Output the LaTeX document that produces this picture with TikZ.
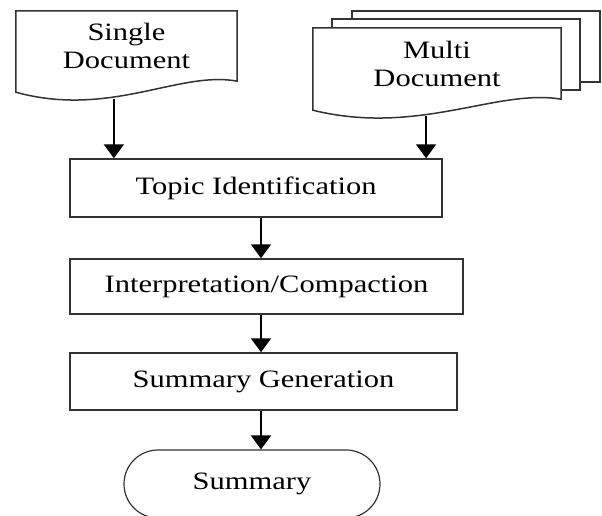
\documentclass[tikz,border=0pt]{standalone}
\usepackage{fontspec}
\setmainfont{Liberation Serif}[FakeStretch=1.22]
\usetikzlibrary{arrows.meta,calc}
\pgfdeclarelayer{background}
\pgfsetlayers{background,main}

\newcommand{\docpage}[1]{%
  \draw[outline, fill=white] (#1.north west) -- (#1.north east) -- (#1.south east)
    .. controls ($(#1.south west)!0.742!(#1.south east)+(0,-11)$)
    and ($(#1.south west)!0.425!(#1.south east)+(0,37)$)
    .. ($(#1.south west)+(0,11)$) -- cycle;}

\begin{document}
\begin{tikzpicture}[x=1pt,y=-1pt]
        \tikzstyle{every node}=[font=\fontsize{25}{28}\selectfont, align=center, inner sep=0pt]
        \tikzstyle{doc}=[minimum height=70pt]
        \tikzstyle{process}=[draw=black!80, line width=1.5pt]
        \tikzstyle{term}=[draw=black!80, line width=1.2pt, rounded corners=34pt, minimum width=256pt, minimum height=68pt]
        \tikzstyle{outline}=[draw=black!80, line width=1.5pt]
        \tikzstyle{flow}=[-{Triangle[width=20pt,length=14pt]}, line width=2pt]
        \useasboundingbox (0,0) rectangle (602,515);
        \node[doc, minimum width=221pt] (single) at (126.5,46) {Single\\Document};
        \node[doc, minimum width=248pt, minimum height=71pt] (multi) at (437,63.5) {Multi\\Document};
        \node[process, minimum width=372pt, minimum height=58pt] (topic) at (256,188) {Topic Identification};
        \node[process, minimum width=393pt, minimum height=55pt] (interp) at (266.5,286.5) {Interpretation/Compaction};
        \node[process, minimum width=387pt, minimum height=57pt] (sumgen) at (263.5,381.5) {\raisebox{4pt}{Summary Generation}};
        \node[term] (summary) at (252,484) {\raisebox{3pt}{Summary}};
        \begin{pgfonlayer}{background}
            \draw[outline, fill=white] ($(multi.north west)+(39,-17)$) rectangle ($(multi.south east)+(39,-17)$);
            \draw[outline, fill=white] ($(multi.north west)+(19,-9)$) rectangle ($(multi.south east)+(19,-9)$);
            \docpage{multi}
            \docpage{single}
        \end{pgfonlayer}
        \coordinate (singlelow) at ($(single.south west)!0.443!(single.south east)+(0,18)$);
        \coordinate (multilow) at ($(multi.south west)!0.456!(multi.south east)+(0,17)$);
        \coordinate (spine) at (261,0);
        \draw[flow] (singlelow) -- (singlelow |- topic.north);
        \draw[flow] (multilow) -- (multilow |- topic.north);
        \draw[flow] (topic.south -| spine) -- (interp.north -| spine);
        \draw[flow] (interp.south -| spine) -- (sumgen.north -| spine);
        \draw[flow] (sumgen.south -| spine) -- (summary.north -| spine);
    \end{tikzpicture}
\end{document}
